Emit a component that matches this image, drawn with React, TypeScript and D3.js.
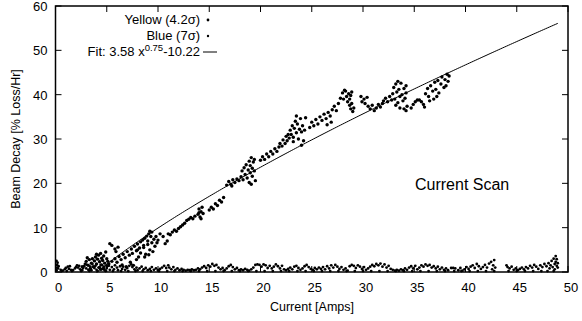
import React from "react";
import * as d3 from "d3";

const W = 582;
const H = 321;

const xTicks = [0, 5, 10, 15, 20, 25, 30, 35, 40, 45, 50];
const yTicks = [0, 10, 20, 30, 40, 50, 60];

const legendLabels = ["Yellow (4.2σ)", "Blue (7σ)"];
const fitCoef = { a: 3.58, p: 0.75, c: -10.22 };
const fitRange = [4.0, 49.0];

// Yellow (4.2 sigma) scan points [current, decay]
const yellowPts: [number, number][] = [
  [2.6,1.2],[2.9,1.8],[3.0,2.4],[3.2,1.5],[3.3,2.8],[3.5,2.0],[3.6,3.0],[3.7,1.2],[3.8,2.5],[3.9,3.4],
  [4.0,1.8],[4.1,2.9],[4.2,3.8],[4.3,1.0],[4.3,2.3],[4.4,4.2],[4.5,3.1],[4.5,1.6],[4.6,2.6],[4.7,3.6],
  [4.7,0.8],[4.8,2.0],[4.9,4.5],[5.0,3.0],[5.0,1.4],[5.1,2.4],[3.4,0.8],[3.1,3.2],[4.0,4.0],[4.4,0.6],
  [5.3,6.4],[5.5,6.0],[5.8,5.2],[6.1,5.6],[5.9,4.6],
  [5.2,1.8],[5.5,2.4],[5.8,3.0],[6.0,2.2],[6.2,3.5],[6.4,2.8],[6.6,4.0],[6.8,3.2],[7.0,4.6],[7.2,3.8],
  [7.4,5.2],[7.5,4.2],[7.7,5.8],[7.9,4.8],[8.0,6.3],[8.2,5.4],[8.3,6.8],[8.5,7.2],[8.6,6.0],[8.7,7.6],
  [8.9,8.1],[9.0,7.0],[9.1,8.6],[9.2,9.2],[9.3,8.0],[9.4,9.0],
  [7.3,2.2],[7.6,1.5],[7.9,2.8],[8.1,3.4],[6.5,1.6],[6.9,1.2],
  [8.0,5.0],[8.3,4.3],[8.6,5.5],[8.8,4.0],[9.0,6.2],[9.2,5.0],[9.4,6.6],[9.5,4.6],[9.6,7.4],[9.7,5.8],
  [9.8,8.0],[9.9,6.6],[10.0,7.2],[8.7,3.4],[9.1,3.9],
  [10.2,8.6],[10.5,8.0],[10.7,6.4],[10.9,7.0],[11.0,8.6],[11.2,8.4],[11.4,9.0],[11.6,9.5],[11.8,9.2],[12.0,9.8],
  [12.2,10.2],[12.4,10.6],[12.6,11.0],[12.8,11.6],
  [13.0,11.9],[13.2,12.3],[13.4,12.0],[13.6,12.6],
  [13.9,13.0],[14.0,14.2],[14.1,12.4],[14.2,13.6],[14.3,14.6],[14.4,13.2],[14.2,12.0],[14.0,13.4],
  [15.0,14.0],[15.2,14.6],[15.4,14.2],[15.6,15.4],[15.8,15.0],[16.0,16.2],[16.2,15.8],[16.4,16.8],
  [16.7,19.6],[16.9,20.4],[17.1,19.8],[17.3,20.8],[17.5,20.2],[17.7,21.0],[17.9,20.6],[17.2,19.4],
  [18.1,21.5],[18.2,22.8],[18.3,20.8],[18.4,23.5],[18.5,22.0],[18.6,24.2],[18.7,21.2],[18.8,23.0],[18.9,25.0],[19.0,22.4],
  [19.0,24.0],[19.1,25.8],[19.2,21.6],[19.2,23.4],[19.3,24.8],[19.4,22.8],[19.5,20.6],[19.4,25.4],[18.9,20.2],[19.1,19.8],
  [20.0,25.2],[20.2,26.0],[20.4,25.4],[20.6,26.6],[20.8,26.0],[21.0,27.2],[21.2,26.6],[21.4,27.8],[21.6,27.2],[21.8,28.2],
  [21.9,29.0],[22.1,28.4],[22.2,29.8],[22.4,29.0],[22.5,30.6],[22.6,29.6],[22.7,31.0],
  [22.8,30.2],[22.9,32.0],[23.0,31.0],[23.1,33.0],[23.2,30.4],[23.3,32.4],[23.4,34.0],[23.5,31.4],[23.6,33.4],[23.7,30.0],
  [23.8,32.2],[23.9,34.6],[24.0,31.6],[24.1,33.0],[24.2,29.6],[24.3,32.0],[24.4,34.8],[23.5,35.2],[23.2,29.4],[24.0,28.6],
  [24.8,32.6],[25.0,33.8],[25.2,33.0],[25.4,34.4],[25.6,33.4],[25.8,35.0],[26.0,34.2],[26.2,35.6],[26.4,34.6],[26.6,36.0],
  [26.8,35.2],[27.0,36.6],[27.2,37.4],[27.4,36.4],[27.6,38.0],[26.9,33.8],[26.5,33.2],
  [27.8,39.2],[28.0,40.4],[28.1,39.0],[28.3,40.8],[28.4,39.6],[28.6,40.2],[28.7,39.0],[28.9,40.6],[28.2,41.0],[28.8,39.8],
  [28.5,38.4],[28.7,37.6],[28.8,36.8],[29.0,36.2],[28.9,38.0],[29.1,37.0],
  [29.8,39.6],[29.9,38.4],[30.1,39.0],[30.2,38.0],[30.4,39.4],
  [30.5,37.4],[30.7,36.8],[30.9,37.6],[31.1,36.4],[31.3,37.0],[31.5,37.8],[31.7,37.2],[31.9,38.0],
  [32.0,38.6],[32.2,39.2],[32.4,38.4],[32.6,39.6],[32.8,38.8],
  [32.9,40.2],[33.0,41.6],[33.1,39.0],[33.2,42.4],[33.3,40.6],[33.4,38.2],[33.5,41.2],[33.6,39.6],[33.7,42.6],[33.8,40.0],
  [33.9,38.6],[34.0,41.4],[34.1,39.2],[34.2,40.4],[34.3,37.4],[33.2,37.6],[33.6,37.0],[34.0,36.8],[33.4,43.0],[34.2,42.0],
  [34.2,36.4],
  [34.7,37.0],[34.9,37.8],[35.1,38.4],[35.3,38.8],[35.5,38.8],[35.7,38.4],[35.9,37.8],[36.0,37.2],
  [36.1,40.2],[36.3,41.4],[36.4,39.6],[36.6,42.0],[36.8,40.8],[37.0,42.8],[37.1,41.2],[37.3,43.2],[37.4,40.4],[37.6,42.4],
  [37.7,44.0],[37.9,41.6],[38.0,43.4],[38.1,42.0],[38.2,44.6],[38.3,43.0],[38.4,44.2],[37.2,39.6],[36.9,39.0],[36.5,38.6],
];

// Blue (7 sigma) scan points [current, decay]
const bluePts: [number, number][] = [
  [0.1,0.4],[0.1,1.0],[0.15,1.6],[0.2,2.1],[0.1,2.5],[0.25,0.8],[0.3,1.3],
  [0.5,0.5],[0.7,0.3],[0.9,0.6],[1.0,0.9],[1.2,1.2],[1.3,0.7],[1.4,1.3],[1.5,0.5],[1.7,0.4],[1.9,0.8],[2.0,1.1],
  [2.1,1.5],[2.2,1.0],[2.3,1.4],[2.4,0.6],[2.6,0.4],[2.7,0.9],[2.8,1.3],[3.0,0.8],[3.1,1.6],[3.2,0.5],[3.4,1.2],
  [3.5,0.4],[3.6,1.8],[3.8,0.9],[3.9,1.4],[4.0,0.5],[4.2,1.0],[4.4,1.6],[4.5,0.6],[4.7,1.2],[4.8,0.4],[5.0,0.9],
  [5.2,1.4],[5.3,0.5],[5.5,1.1],[5.7,0.6],[5.8,1.5],[6.0,1.0],[6.1,0.4],[6.3,1.3],[6.5,0.7],[6.6,1.2],[6.8,0.5],
  [7.0,0.9],[7.2,1.4],[7.4,1.7],[7.5,1.1],[7.7,0.6],[7.9,1.0],[8.0,0.4],[8.2,0.8],[8.4,1.2],[8.6,0.6],[8.8,0.9],
  [9.0,0.4],[9.2,0.7],[9.4,1.1],[9.6,0.5],[9.8,0.8],[10.0,0.4],[10.2,0.7],[10.4,1.0],[10.6,1.4],[10.8,0.9],[11.0,1.5],
  [11.1,1.0],[11.3,0.6],[11.5,1.1],[11.7,0.5],[11.9,0.8],[12.1,0.4],[12.3,0.7],[12.5,0.5],[12.7,0.3],[12.9,0.5],
  [13.1,0.4],[13.3,0.6],[13.5,0.4],[13.7,0.5],[13.9,0.8],[14.1,0.6],[14.3,1.0],[14.5,1.3],[14.7,0.9],[14.9,1.5],
  [15.1,1.2],[15.3,1.8],[15.5,1.4],[15.7,1.6],[15.9,1.0],[16.1,0.6],[16.3,0.9],[16.5,0.4],[16.7,0.8],[16.9,1.3],
  [17.1,1.6],[17.3,1.1],[17.5,0.6],[17.7,0.9],[17.9,0.4],[18.1,0.6],[18.3,0.4],[18.5,0.7],[18.7,0.5],[18.9,0.3],
  [19.1,0.6],[19.3,1.0],[19.5,1.6],[19.7,1.7],[19.9,1.6],[20.1,1.2],[20.3,1.7],[20.5,1.5],[20.7,0.9],[20.9,1.4],
  [21.1,0.8],[21.3,1.2],[21.5,1.7],[21.7,1.3],[21.9,0.8],[22.1,1.4],[22.3,0.6],[22.5,0.4],[22.7,0.7],[22.9,1.0],
  [23.1,0.6],[23.3,1.2],[23.5,1.4],[23.7,0.9],[23.9,0.5],[24.1,0.8],[24.3,1.3],[24.5,1.6],[24.7,1.1],[24.9,0.7],
  [25.1,0.5],[25.3,0.9],[25.5,0.6],[25.7,1.0],[25.9,0.7],[26.1,1.1],[26.3,0.6],[26.5,1.3],[26.7,0.8],[26.9,1.5],
  [27.1,1.0],[27.3,1.6],[27.5,1.2],[27.7,0.7],[27.9,1.1],[28.1,0.5],[28.3,0.8],[28.5,0.3],[28.7,1.3],[28.9,1.6],
  [29.1,1.4],[29.3,0.9],[29.5,1.5],[29.7,1.2],[29.9,0.7],[30.1,1.1],[30.3,0.5],[30.5,0.8],[30.7,1.2],[30.9,1.6],
  [31.1,1.3],[31.3,1.8],[31.5,1.5],[31.7,1.9],[31.9,1.2],[32.1,1.7],[32.3,1.0],[32.5,1.4],[32.7,0.7],[32.9,0.5],
  [33.1,0.3],[33.3,0.5],[33.5,0.3],[33.7,0.6],[33.9,0.4],[34.1,0.8],[34.3,0.5],[34.5,1.0],[34.7,1.3],[34.9,0.8],
  [35.1,1.4],[35.3,0.6],[35.5,1.0],[35.7,1.5],[35.9,1.2],[36.1,1.7],[36.3,1.4],[36.5,1.6],[36.7,1.0],[36.9,1.3],
  [37.1,0.8],[37.3,1.2],[37.5,0.6],[37.7,1.0],[37.9,0.5],[38.1,0.8],[38.3,0.4],[38.6,0.9],[38.8,0.9],[39.0,0.8],
  [39.3,0.4],[39.5,0.9],[39.7,0.3],[39.9,0.6],[40.1,1.1],[40.3,0.7],[40.5,1.2],[40.7,1.5],[40.9,0.9],[41.1,1.8],
  [41.3,1.3],[41.5,0.7],[41.7,1.1],[41.9,1.6],[42.1,1.0],[42.3,1.9],[42.5,2.3],[42.7,1.5],[42.8,2.7],[42.6,0.6],
  [42.9,1.0],[44.0,1.5],[44.1,1.1],[44.3,0.8],[44.5,1.2],[44.7,0.5],[44.9,0.8],[45.1,0.4],[45.3,0.7],[45.5,1.0],
  [45.7,0.6],[45.9,1.1],[46.1,0.8],[46.3,1.4],[46.5,1.0],[46.7,1.6],[46.9,1.2],[47.1,0.7],[47.3,1.5],[47.5,1.1],
  [47.7,1.8],[47.9,1.3],[48.1,2.0],[48.2,0.8],[48.3,1.5],[48.4,2.5],[48.5,1.1],[48.6,3.0],[48.7,1.8],[48.7,0.6],
  [48.8,3.6],[48.8,2.3],[48.9,1.4],[48.9,2.9],[49.0,1.0],[49.0,2.0],
  [0.6,0.2],[1.1,0.2],[1.6,0.2],[2.5,0.2],[3.3,0.2],[4.1,0.2],[4.9,0.2],[5.6,0.2],[6.4,0.2],[7.1,0.2],
  [7.8,0.2],[8.5,0.2],[9.3,0.2],[10.1,0.2],[10.9,0.2],[11.6,0.2],[12.4,0.2],[13.2,0.2],[14.0,0.2],[14.8,0.2],
  [15.6,0.2],[16.4,0.2],[17.2,0.2],[18.0,0.2],[18.8,0.2],[19.6,0.2],[20.4,0.2],[21.2,0.2],[22.0,0.2],[22.8,0.2],
  [23.6,0.2],[24.4,0.2],[25.2,0.2],[26.0,0.2],[26.8,0.2],[27.6,0.2],[28.4,0.2],[29.2,0.2],[30.0,0.2],[30.8,0.2],
  [31.6,0.2],[32.4,0.2],[33.2,0.2],[34.0,0.2],[34.8,0.2],[35.6,0.2],[36.4,0.2],[37.2,0.2],[38.0,0.2],[38.9,0.2],
  [39.6,0.2],[40.4,0.2],[41.2,0.2],[42.0,0.2],[42.8,0.2],[44.2,0.2],[45.0,0.2],[45.8,0.2],[46.6,0.2],[47.4,0.2],
  [48.0,0.2],[48.6,0.2],
];

export default function App() {
  const left = 55.5, right = 568, top = 6, bottom = 272;
  const x = d3.scaleLinear().domain([0, 50]).range([left, right]);
  const y = d3.scaleLinear().domain([0, 60]).range([bottom, top]);

  const fitFn = (v: number) => fitCoef.a * Math.pow(v, fitCoef.p) + fitCoef.c;
  const fitXs = d3.range(fitRange[0], fitRange[1] + 0.001, 0.2);
  const fitPath = d3.line<number>().x((v) => x(v)).y((v) => y(fitFn(v)))(fitXs) || "";

  const font = "'Liberation Sans', Arial, Helvetica, sans-serif";
  const tickLen = 6;

  return (
    <svg
      width={W}
      height={H}
      viewBox={`0 0 ${W} ${H}`}
      style={{ position: "absolute", left: 0, top: 0, background: "#fff" }}
      fontFamily={font}
    >
      <rect x={0} y={0} width={W} height={H} fill="#fff" />
      <g stroke="#000" strokeWidth={1}>
        {xTicks.map((t) => (
          <g key={"xt" + t}>
            <line x1={x(t)} x2={x(t)} y1={bottom} y2={bottom - tickLen} />
            <line x1={x(t)} x2={x(t)} y1={top} y2={top + tickLen} />
          </g>
        ))}
        {yTicks.map((t) => (
          <g key={"yt" + t}>
            <line x1={left} x2={left + tickLen} y1={y(t)} y2={y(t)} />
            <line x1={right} x2={right - tickLen} y1={y(t)} y2={y(t)} />
          </g>
        ))}
      </g>
      <g fontSize={13} fill="#000">
        {xTicks.map((t) => (
          <text key={"xl" + t} x={x(t) + 3} y={bottom + 20} textAnchor="middle">
            {t}
          </text>
        ))}
        {yTicks.map((t) => (
          <text key={"yl" + t} x={left - 8} y={y(t) + 5} textAnchor="end">
            {t}
          </text>
        ))}
      </g>
      <path d={fitPath} fill="none" stroke="#000" strokeWidth={1} />
      <g fill="#000">
        {bluePts.map((p, i) => (
          <circle key={"b" + i} cx={x(p[0])} cy={y(p[1])} r={1.4} />
        ))}
      </g>
      <g fill="#000">
        {yellowPts.map((p, i) => (
          <circle key={"y" + i} cx={x(p[0])} cy={y(p[1])} r={1.7} />
        ))}
      </g>
      <rect x={left} y={top} width={right - left} height={bottom - top} fill="none" stroke="#000" strokeWidth={1.5} />
      <g fontSize={13} fill="#000">
        <text x={200} y={24} textAnchor="end">{legendLabels[0]}</text>
        <circle cx={208} cy={20} r={1.4} />
        <text x={200} y={40} textAnchor="end">{legendLabels[1]}</text>
        <circle cx={208} cy={36} r={1.2} />
        <text x={200} y={56} textAnchor="end">
          <tspan>{`Fit: ${fitCoef.a} x`}</tspan>
          <tspan fontSize={9.5} dy={-5}>{String(fitCoef.p)}</tspan>
          <tspan dy={5}>{String(fitCoef.c)}</tspan>
        </text>
        <line x1={203} x2={217} y1={52} y2={52} stroke="#000" strokeWidth={1} />
      </g>
      <text x={415} y={190} fontSize={16} fill="#000">Current Scan</text>
      <text x={312} y={311} fontSize={12.5} textAnchor="middle" fill="#000">Current [Amps]</text>
      <text
        transform={`translate(20, ${(top + bottom) / 2}) rotate(-90)`}
        fontSize={12.5}
        textAnchor="middle"
        fill="#000"
      >
        Beam Decay [% Loss/Hr]
      </text>
    </svg>
  );
}
